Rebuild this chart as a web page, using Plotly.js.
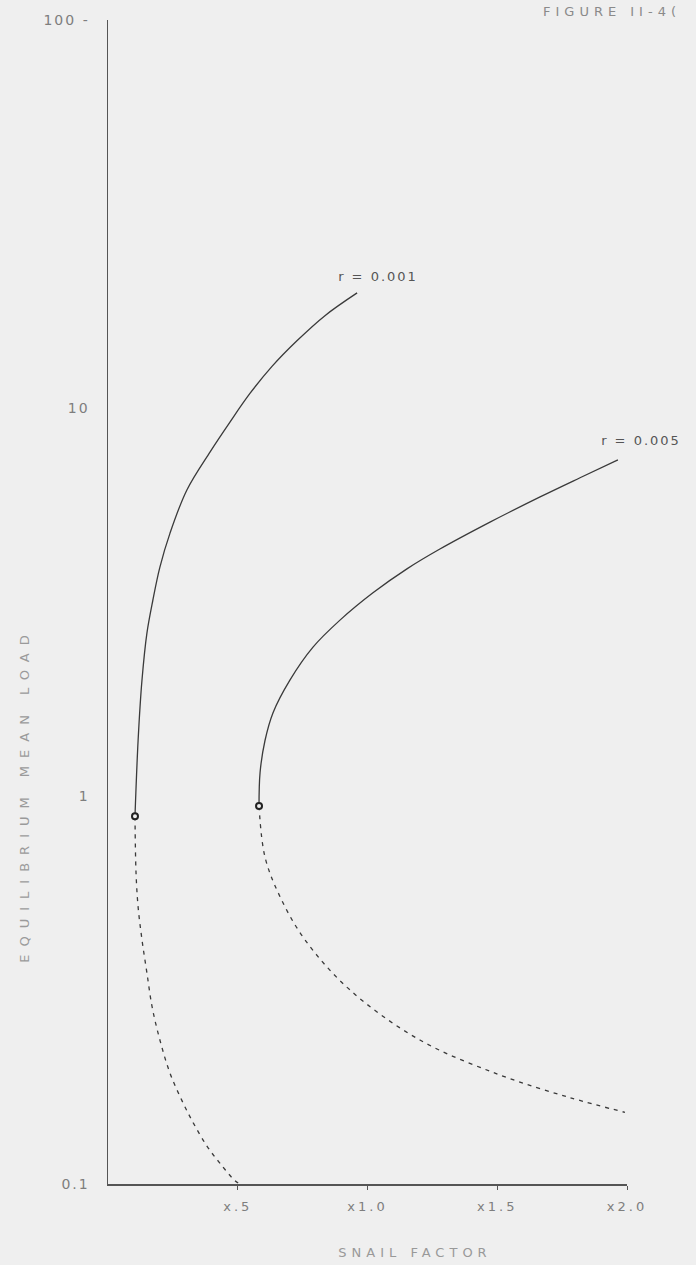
<!DOCTYPE html>
<html>
<head>
<meta charset="utf-8">
<script src="https://cdn.plot.ly/plotly-3.0.1.min.js"></script>
<style>html,body{margin:0;padding:0;background:#efefef;}#chart{width:696px;height:1265px;}</style>
</head>
<body>
<div id="chart"></div>
<script>
// Snail factor (multiplier) vs equilibrium mean load (log scale)
const r001SolidX = [0.104, 0.116, 0.131, 0.150, 0.173, 0.200, 0.239, 0.304, 0.393, 0.470, 0.547, 0.632, 0.728, 0.836, 0.960];
const r001SolidY = [0.887, 1.39, 1.99, 2.63, 3.20, 3.89, 4.76, 6.15, 7.70, 9.20, 10.9, 12.8, 14.9, 17.3, 19.8];
const r001DashX = [0.104, 0.108, 0.116, 0.131, 0.150, 0.170, 0.200, 0.239, 0.285, 0.328, 0.382, 0.432, 0.489, 0.509];
const r001DashY = [0.887, 0.634, 0.518, 0.426, 0.350, 0.286, 0.235, 0.193, 0.164, 0.144, 0.125, 0.113, 0.102, 0.100];
const r005SolidX = [0.582, 0.586, 0.605, 0.636, 0.701, 0.790, 0.894, 1.021, 1.152, 1.279, 1.472, 1.665, 1.819, 1.965];
const r005SolidY = [0.942, 1.15, 1.39, 1.64, 1.99, 2.42, 2.84, 3.34, 3.85, 4.33, 5.08, 5.90, 6.61, 7.35];
const r005DashX = [0.582, 0.605, 0.663, 0.759, 0.933, 1.202, 1.510, 1.780, 1.992];
const r005DashY = [0.942, 0.696, 0.550, 0.426, 0.316, 0.235, 0.191, 0.167, 0.153];
const pointX = [0.104, 0.582];
const pointY = [0.887, 0.942];
const xTickVals = [0.5, 1.0, 1.5, 2.0];
const xTickText = ['x.5', 'x1.0', 'x1.5', 'x2.0'];
const yTickVals = [0.1, 1, 10, 100];
const yTickText = ['0.1', '1', '10', '100 -'];
const curveLabels = ['r = 0.001', 'r = 0.005'];

const ink = '#3a3a3a';
const txt = '#7e7e7e';
const fnt = 'DejaVu Sans, sans-serif';

const traces = [
  {x: r001SolidX, y: r001SolidY, mode: 'lines', line: {color: ink, width: 1.3, shape: 'spline'}, hoverinfo: 'skip'},
  {x: r001DashX, y: r001DashY, mode: 'lines', line: {color: ink, width: 1.3, dash: '4px,5px', shape: 'spline'}, hoverinfo: 'skip'},
  {x: r005SolidX, y: r005SolidY, mode: 'lines', line: {color: ink, width: 1.3, shape: 'spline'}, hoverinfo: 'skip'},
  {x: r005DashX, y: r005DashY, mode: 'lines', line: {color: ink, width: 1.3, dash: '4px,5px', shape: 'spline'}, hoverinfo: 'skip'},
  {x: pointX, y: pointY, mode: 'markers', marker: {size: 6, color: '#efefef', line: {color: '#222', width: 2}}, hoverinfo: 'skip'}
];

// text items: [text, centre x px, centre y px, font size, colour, letter spacing, angle]
const textItems = [
  [curveLabels[0], 378, 276, 13, '#555', '2px', 0],
  [curveLabels[1], 641, 440, 13, '#555', '2px', 0],
  ['EQUILIBRIUM MEAN LOAD', 24, 795, 13, '#9a9a9a', '8px', -90],
  ['SNAIL FACTOR', 415, 1252, 13, '#999', '5px', 0],
  ['FIGURE II-4(', 612, 11, 13, '#8a8a8a', '5px', 0]
];

const L = 108, T = 20, W = 519, H = 1164;
const layout = {
  width: 696, height: 1265,
  paper_bgcolor: '#efefef', plot_bgcolor: '#efefef',
  showlegend: false,
  margin: {l: L, r: 696 - L - W, t: T, b: 1265 - T - H},
  font: {family: fnt, color: txt, size: 12},
  xaxis: {
    range: [0, 2.0], showgrid: false, zeroline: false,
    showline: true, linecolor: '#555', linewidth: 1.5,
    tickvals: xTickVals, ticktext: xTickText,
    ticks: 'outside', ticklen: 4, tickcolor: '#555',
    ticklabelstandoff: 6,
    tickfont: {family: fnt, size: 13, color: txt}
  },
  yaxis: {
    type: 'log', range: [-1, 2], showgrid: false, zeroline: false,
    showline: true, linecolor: '#555', linewidth: 1.5,
    tickvals: yTickVals, ticktext: yTickText,
    ticks: '', ticklabelstandoff: 14,
    tickfont: {family: fnt, size: 14, color: txt}
  },
  annotations: textItems.map(t => ({
    xref: 'paper', yref: 'paper', x: (t[1] - L) / W, y: (T + H - t[2]) / H,
    xanchor: 'center', yanchor: 'middle', text: t[0], textangle: t[6], showarrow: false,
    font: {family: fnt, size: t[3], color: t[4]}
  }))
};

Plotly.newPlot('chart', traces, layout, {displayModeBar: false, staticPlot: true}).then(function (gd) {
  gd.querySelectorAll('.xtick text').forEach(el => { el.style.letterSpacing = '3px'; });
  gd.querySelectorAll('.ytick text').forEach(el => { el.style.letterSpacing = '2px'; });
  const root = gd.getBoundingClientRect();
  gd.querySelectorAll('.annotation').forEach((g, i) => {
    const t = textItems[i];
    if (!t) return;
    const el = g.querySelector('.annotation-text');
    el.style.letterSpacing = t[5];
    const b = el.getBoundingClientRect();
    const cx = b.left + b.width / 2 - root.left;
    const cy = b.top + b.height / 2 - root.top;
    g.setAttribute('transform', 'translate(' + (t[1] - cx) + ',' + (t[2] - cy) + ')');
  });
});
</script>
</body>
</html>
